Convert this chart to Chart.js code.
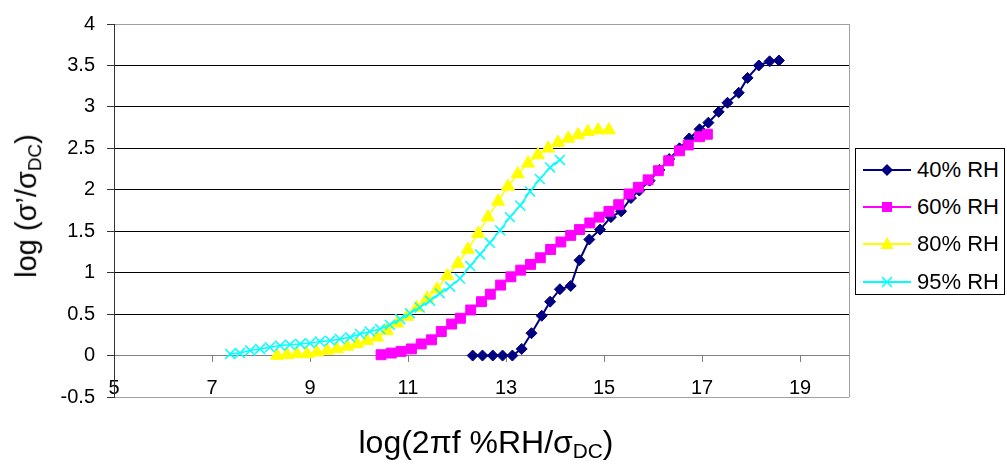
<!DOCTYPE html>
<html>
<head>
<meta charset="utf-8">
<script src="https://cdn.jsdelivr.net/npm/chart.js@4"></script>
<style>
  body { margin: 0; background: #fff; }
  #wrap { position: relative; width: 1007px; height: 464px; font-family: "Liberation Sans", Arial, sans-serif; }
  #chart { position: absolute; left: 0; top: 0; }
  .title { position: absolute; color: #000; white-space: nowrap; }
  .title sub { font-size: 0.65em; vertical-align: -0.25em; }
  #ytitle { font-size: 29px; left: 28px; top: 206px; transform: translate(-50%, -50%) rotate(-90deg); }
  #xtitle { font-size: 32px; left: 486px; top: 424px; transform: translateX(-50%); }
  #legend { position: absolute; left: 855px; top: 148px; width: 150px; height: 147px; border: 1px solid #000; box-sizing: border-box; background: #fff; }
  .item { position: absolute; left: 7px; height: 30px; display: flex; align-items: center; font-size: 22px; }
  .item svg { margin-right: 6px; }
</style>
</head>
<body>
<div id="wrap">
  <canvas id="chart" width="1007" height="464"></canvas>
  <div class="title" id="ytitle">log (σ’/σ<sub>DC</sub>)</div>
  <div class="title" id="xtitle">log(2πf %RH/σ<sub>DC</sub>)</div>
  <div id="legend"></div>
</div>
<script>
// -------- DATA --------
const seriesNames = ["40% RH", "60% RH", "80% RH", "95% RH"];

const x40 = [12.32, 12.52, 12.73, 12.93, 13.13, 13.32, 13.52, 13.73, 13.9, 14.1, 14.32, 14.5, 14.7, 14.92, 15.14, 15.35, 15.55, 15.72, 15.93, 16.13, 16.33, 16.54, 16.74, 16.95, 17.13, 17.34, 17.52, 17.75, 17.93, 18.16, 18.38, 18.57];
const y40 = [0, 0, 0, 0, 0, 0.08, 0.27, 0.48, 0.65, 0.80, 0.84, 1.15, 1.40, 1.52, 1.67, 1.74, 1.90, 1.99, 2.11, 2.24, 2.37, 2.50, 2.62, 2.73, 2.81, 2.94, 3.05, 3.17, 3.35, 3.50, 3.55, 3.56];

const x60 = [10.45, 10.66, 10.86, 11.07, 11.27, 11.48, 11.68, 11.89, 12.07, 12.28, 12.5, 12.68, 12.89, 13.1, 13.3, 13.5, 13.7, 13.91, 14.12, 14.32, 14.5, 14.71, 14.9, 15.1, 15.3, 15.51, 15.7, 15.9, 16.11, 16.32, 16.54, 16.72, 16.95, 17.11];
const y60 = [0.01, 0.03, 0.05, 0.08, 0.14, 0.19, 0.29, 0.38, 0.45, 0.55, 0.65, 0.74, 0.85, 0.95, 1.03, 1.10, 1.18, 1.28, 1.37, 1.45, 1.52, 1.60, 1.67, 1.74, 1.82, 1.95, 2.03, 2.12, 2.23, 2.35, 2.47, 2.54, 2.64, 2.67];

const x80 = [8.33, 8.53, 8.73, 8.94, 9.14, 9.35, 9.55, 9.76, 9.96, 10.16, 10.37, 10.57, 10.78, 10.98, 11.18, 11.39, 11.59, 11.8, 12.02, 12.22, 12.43, 12.63, 12.84, 13.04, 13.24, 13.45, 13.65, 13.86, 14.06, 14.27, 14.47, 14.67, 14.88, 15.1];
const y80 = [0, 0.01, 0.02, 0.02, 0.04, 0.06, 0.08, 0.11, 0.14, 0.18, 0.22, 0.30, 0.39, 0.47, 0.58, 0.69, 0.80, 0.96, 1.11, 1.28, 1.47, 1.67, 1.86, 2.04, 2.19, 2.32, 2.42, 2.50, 2.57, 2.62, 2.66, 2.70, 2.72, 2.72];

const x95 = [7.37, 7.57, 7.78, 7.98, 8.18, 8.39, 8.59, 8.8, 9.0, 9.2, 9.41, 9.61, 9.82, 10.02, 10.22, 10.43, 10.63, 10.84, 11.04, 11.24, 11.45, 11.65, 11.86, 12.06, 12.27, 12.47, 12.67, 12.88, 13.08, 13.29, 13.49, 13.69, 13.9, 14.1];
const y95 = [0.02, 0.03, 0.06, 0.08, 0.10, 0.12, 0.13, 0.14, 0.15, 0.17, 0.18, 0.20, 0.22, 0.26, 0.29, 0.32, 0.37, 0.44, 0.51, 0.58, 0.66, 0.75, 0.83, 0.93, 1.08, 1.22, 1.36, 1.51, 1.67, 1.81, 1.98, 2.13, 2.27, 2.36];

// axis ticks
const xTickValues = [5, 7, 9, 11, 13, 15, 17, 19];
const xMin = 5, xMax = 20;
const yMin = -0.5, yMax = 4, yStep = 0.5;

function toPoints(xs, ys) {
    return xs.map((x, i) => ({ x, y: ys[i] }));
}

// -------- SERIES STYLES --------
const styles = [
    { color: "#000080", pointStyle: "rectRot", radius: 5.5, lineWidth: 2 },
    { color: "#FF00FF", pointStyle: "rect", radius: 7, lineWidth: 1.5 },
    { color: "#FFFF00", pointStyle: "triangle", radius: 7.5, lineWidth: 1.5 },
    { color: "#00FFFF", pointStyle: "crossRot", radius: 7, lineWidth: 1.5 }
];

const allData = [toPoints(x40, y40), toPoints(x60, y60), toPoints(x80, y80), toPoints(x95, y95)];

const datasets = allData.map((pts, i) => ({
    label: seriesNames[i],
    data: pts,
    borderColor: styles[i].color,
    backgroundColor: styles[i].color,
    borderWidth: styles[i].lineWidth,
    pointStyle: styles[i].pointStyle,
    pointRadius: styles[i].radius,
    pointBorderWidth: styles[i].pointStyle === "crossRot" ? 1.5 : 1,
    pointHoverRadius: styles[i].radius,
    tension: 0,
    order: 4 - i
}));

// frame on the right side of the plot
const frame = {
    id: "frame",
    beforeDatasetsDraw(chart) {
        const { ctx, chartArea: a } = chart;
        ctx.save();
        ctx.strokeStyle = "#a0a0a0";
        ctx.lineWidth = 1;
        ctx.beginPath();
        ctx.moveTo(Math.round(a.right) + 0.5, a.top);
        ctx.lineTo(Math.round(a.right) + 0.5, a.bottom);
        ctx.stroke();
        ctx.restore();
    }
};

const chart = new Chart(document.getElementById("chart"), {
    type: "line",
    data: { datasets },
    plugins: [frame],
    options: {
        responsive: false,
        animation: false,
        layout: { padding: { top: 17, right: 158, bottom: 67, left: 0 } },
        plugins: { legend: { display: false }, tooltip: { enabled: false } },
        scales: {
            x: {
                type: "linear",
                position: { y: 0 },
                min: xMin,
                max: xMax,
                afterBuildTicks: scale => {
                    scale.ticks = xTickValues.map(v => ({ value: v }));
                },
                ticks: {
                    color: "#000",
                    font: { family: "Liberation Sans", size: 20 },
                    padding: 15,
                    maxRotation: 0,
                    autoSkip: false,
                    callback: v => String(v)
                },
                grid: { drawOnChartArea: false, drawTicks: true, tickLength: 6, tickColor: "#808080" },
                border: { color: "#808080", width: 1 }
            },
            y: {
                min: yMin,
                max: yMax,
                afterFit: scale => { scale.width = 114; },
                ticks: {
                    stepSize: yStep,
                    color: "#000",
                    font: { family: "Liberation Sans", size: 20 },
                    padding: 12,
                    callback: v => String(v)
                },
                grid: {
                    color: c => {
                        const v = c.tick ? c.tick.value : null;
                        if (v === yMin || v === yMax) return "#a0a0a0";
                        if (v === 0) return "#808080";
                        return "#000";
                    },
                    tickLength: 7,
                    tickColor: "#333"
                },
                border: { color: "#333", width: 1 }
            }
        }
    }
});

// -------- LEGEND --------
function swatch(s) {
    const c = s.color;
    let mark = "";
    if (s.pointStyle === "rectRot") mark = `<polygon points="24,2 30,8 24,14 18,8" fill="${c}"/>`;
    if (s.pointStyle === "rect") mark = `<rect x="19" y="3" width="10" height="10" fill="${c}"/>`;
    if (s.pointStyle === "triangle") mark = `<polygon points="24,1 30.5,13 17.5,13" fill="${c}"/>`;
    if (s.pointStyle === "crossRot") mark = `<path d="M19 3 L29 13 M29 3 L19 13" stroke="${c}" stroke-width="1.5"/>`;
    return `<svg width="48" height="16"><line x1="0" y1="8" x2="48" y2="8" stroke="${c}" stroke-width="2"/>${mark}</svg>`;
}

const legendEl = document.getElementById("legend");
const rowTops = [6, 43, 80, 118];
seriesNames.forEach((name, i) => {
    const row = document.createElement("div");
    row.className = "item";
    row.style.top = rowTops[i] + "px";
    row.innerHTML = swatch(styles[i]) + `<span>${name}</span>`;
    legendEl.appendChild(row);
});
</script>
</body>
</html>
